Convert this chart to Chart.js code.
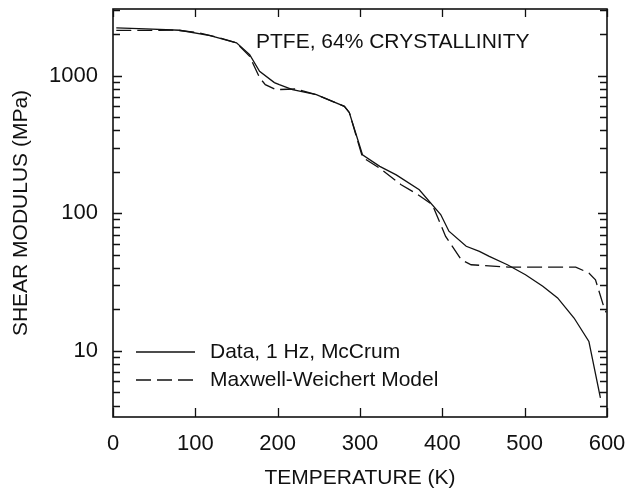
<!DOCTYPE html>
<html>
<head>
<meta charset="utf-8">
<script src="https://cdn.jsdelivr.net/npm/chart.js@4.4.1/dist/chart.umd.min.js"></script>
<style>
  body { margin: 0; background: #fff; }
  #wrap { width: 627px; height: 495px; }
</style>
</head>
<body>
<div id="wrap"><canvas id="myChart" width="627" height="495"></canvas></div>
<script>
// measured data (McCrum, 1 Hz)
var dataTemp = [4, 40, 81, 118, 150, 166, 178, 196, 202, 218, 247, 281, 287, 303, 324, 344, 372, 398, 408, 429, 445, 457, 479, 501, 522, 540, 560, 578, 592];
var dataModulus = [2224, 2190, 2137, 1954, 1730, 1422, 1075, 890, 860, 791, 727, 598, 538, 266, 219, 190, 148, 97.7, 74, 57.5, 52.8, 48.5, 42.2, 35.7, 29.4, 24.2, 17.3, 11.7, 4.55];

// Maxwell-Weichert model
var modelTemp = [4, 77, 101, 130, 150, 166, 178, 185, 198, 222, 247, 281, 287, 303, 324, 350, 370, 388, 404, 423, 435, 480, 562, 578, 586, 596, 599];
var modelModulus = [2130, 2140, 2065, 1880, 1730, 1380, 967, 860, 791, 800, 727, 598, 540, 255, 212, 161, 137, 115, 67.8, 45.9, 42.2, 40.6, 40.6, 36.7, 32.8, 21, 19];

var xTicks = [0, 100, 200, 300, 400, 500, 600];
var yLabelTicks = [10, 100, 1000];

var FONT = "'Liberation Sans', Arial, Helvetica, sans-serif";
var INK = "#111";

function toPoints(xs, ys) {
  var pts = [];
  for (var i = 0; i < xs.length; i++) pts.push({ x: xs[i], y: ys[i] });
  return pts;
}

// all log ticks 1..9 x 10^n inside the range
function logTicks(min, max) {
  var out = [];
  for (var e = 0; e <= 4; e++) {
    for (var m = 1; m <= 9; m++) {
      var v = m * Math.pow(10, e);
      if (v >= min && v <= max) out.push(v);
    }
  }
  return out;
}

// frame with inward ticks on all four sides, plus title and legend
var framePlugin = {
  id: "frame",
  afterDatasetsDraw: function (chart) {
    var c = chart.ctx;
    var a = chart.chartArea;
    var xs = chart.scales.x, ys = chart.scales.y;
    c.save();
    c.strokeStyle = INK;
    c.lineWidth = 1.6;
    c.strokeRect(a.left, a.top, a.right - a.left, a.bottom - a.top);
    c.lineWidth = 1.3;
    c.beginPath();
    xTicks.forEach(function (v) {
      var px = Math.round(xs.getPixelForValue(v)) + 0.5;
      c.moveTo(px, a.bottom); c.lineTo(px, a.bottom - 9);
      c.moveTo(px, a.top); c.lineTo(px, a.top + 8);
    });
    logTicks(ys.min, ys.max).forEach(function (v) {
      var py = Math.round(ys.getPixelForValue(v)) + 0.5;
      var len = yLabelTicks.indexOf(v) >= 0 ? 9 : 7;
      c.moveTo(a.left, py); c.lineTo(a.left + len, py);
      c.moveTo(a.right, py); c.lineTo(a.right - len, py);
    });
    c.stroke();

    // title inside the plot
    c.fillStyle = INK;
    c.font = "21px " + FONT;
    c.textBaseline = "middle";
    c.textAlign = "left";
    c.fillText("PTFE, 64% CRYSTALLINITY", a.left + 143, a.top + 33);

    // legend inside the plot
    var rows = [a.top + 343, a.top + 371];
    chart.data.datasets.forEach(function (ds, i) {
      var y = rows[i];
      c.beginPath();
      c.lineWidth = 1.3;
      c.setLineDash(ds.borderDash || []);
      c.moveTo(a.left + 23, y); c.lineTo(a.left + 82, y);
      c.stroke();
      c.setLineDash([]);
      c.fillText(ds.label, a.left + 97, y);
    });
    c.restore();
  }
};

var ctx = document.getElementById("myChart").getContext("2d");
var myChart = new Chart(ctx, {
  type: "line",
  data: {
    datasets: [
      {
        label: "Data, 1 Hz, McCrum",
        data: toPoints(dataTemp, dataModulus),
        borderColor: INK,
        borderWidth: 1.3,
        pointRadius: 0,
        tension: 0,
        fill: false
      },
      {
        label: "Maxwell-Weichert Model",
        data: toPoints(modelTemp, modelModulus),
        borderColor: INK,
        borderWidth: 1.3,
        borderDash: [15, 6],
        pointRadius: 0,
        tension: 0,
        fill: false
      }
    ]
  },
  options: {
    responsive: false,
    animation: false,
    layout: { padding: { top: 9, right: 20, left: 0, bottom: 0 } },
    plugins: {
      legend: { display: false },
      tooltip: { enabled: false }
    },
    scales: {
      x: {
        type: "linear",
        min: 0,
        max: 600,
        afterBuildTicks: function (scale) {
          scale.ticks = xTicks.map(function (v) { return { value: v }; });
        },
        afterFit: function (scale) {
          scale.height = 78;
          scale.paddingLeft = 0;
          scale.paddingRight = 0;
        },
        grid: { display: false, drawTicks: false },
        border: { display: false },
        ticks: {
          color: INK,
          padding: 14,
          maxRotation: 0,
          font: { family: FONT, size: 22 }
        },
        title: {
          display: true,
          text: "TEMPERATURE (K)",
          color: INK,
          padding: { top: 0, bottom: 4 },
          font: { family: FONT, size: 21 }
        }
      },
      y: {
        type: "logarithmic",
        min: 3.3,
        max: 3050,
        afterBuildTicks: function (scale) {
          scale.ticks = logTicks(3.3, 3050).map(function (v) {
            return { value: v, major: yLabelTicks.indexOf(v) >= 0 };
          });
        },
        afterFit: function (scale) {
          scale.width = 113;
          scale.paddingTop = 0;
          scale.paddingBottom = 0;
        },
        grid: { display: false, drawTicks: false },
        border: { display: false },
        ticks: {
          color: INK,
          padding: 15,
          autoSkip: false,
          font: { family: FONT, size: 22 },
          callback: function (v) {
            return yLabelTicks.indexOf(v) >= 0 ? String(v) : "";
          }
        },
        title: {
          display: true,
          text: "SHEAR MODULUS (MPa)",
          color: INK,
          padding: { top: 9, bottom: 0 },
          font: { family: FONT, size: 21 }
        }
      }
    }
  },
  plugins: [framePlugin]
});
</script>
</body>
</html>
